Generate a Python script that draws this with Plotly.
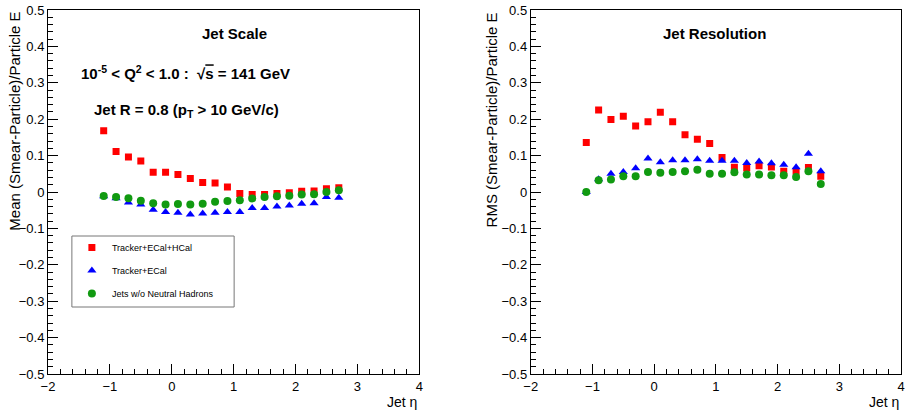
import plotly.graph_objects as go

# ---- data ----
eta = [-1.1, -0.9, -0.7, -0.5, -0.3, -0.1, 0.1, 0.3, 0.5, 0.7,
       0.9, 1.1, 1.3, 1.5, 1.7, 1.9, 2.1, 2.3, 2.5, 2.7]

mean_full = [0.168, 0.111, 0.096, 0.085, 0.054, 0.054, 0.048, 0.037, 0.026, 0.025,
             0.014, -0.004, -0.007, -0.007, -0.004, -0.002, 0.002, 0.003, 0.009, 0.012]
mean_trk_ecal = [-0.012, -0.017, -0.029, -0.034, -0.049, -0.055, -0.057, -0.062, -0.059, -0.057,
                 -0.055, -0.055, -0.044, -0.044, -0.040, -0.037, -0.032, -0.031, -0.014, -0.016]
mean_no_nh = [-0.011, -0.014, -0.017, -0.024, -0.031, -0.034, -0.033, -0.034, -0.032, -0.027,
              -0.025, -0.023, -0.018, -0.014, -0.012, -0.010, -0.007, -0.006, 0.000, 0.005]

rms_full = [0.136, 0.225, 0.199, 0.208, 0.181, 0.193, 0.219, 0.193, 0.157, 0.145,
            0.133, 0.095, 0.068, 0.066, 0.072, 0.069, 0.057, 0.057, 0.067, 0.043]
rms_trk_ecal = [0.000, 0.035, 0.050, 0.055, 0.065, 0.092, 0.082, 0.087, 0.087, 0.090,
                0.086, 0.086, 0.086, 0.080, 0.084, 0.079, 0.075, 0.068, 0.105, 0.057]
rms_no_nh = [0.000, 0.032, 0.034, 0.043, 0.043, 0.055, 0.053, 0.055, 0.057, 0.061,
             0.050, 0.050, 0.054, 0.048, 0.048, 0.046, 0.046, 0.041, 0.057, 0.022]

series_names = ["Tracker+ECal+HCal", "Tracker+ECal", "Jets w/o Neutral Hadrons"]
colors = ["#ff0000", "#0000ff", "#119a11"]
symbols = ["square", "triangle-up", "circle"]
sizes = [7, 8, 8]

FONT = "Liberation Sans, Arial, Helvetica, sans-serif"

fig = go.Figure()

left = [mean_full, mean_trk_ecal, mean_no_nh]
right = [rms_full, rms_trk_ecal, rms_no_nh]
for i in range(3):
    fig.add_trace(go.Scatter(
        x=eta, y=left[i], mode="markers", name=series_names[i],
        legendgroup=f"g{i}",
        marker=dict(symbol=symbols[i], color=colors[i], size=sizes[i], line=dict(width=0)),
        xaxis="x", yaxis="y", showlegend=True))
for i in range(3):
    fig.add_trace(go.Scatter(
        x=eta, y=right[i], mode="markers", name=series_names[i],
        legendgroup=f"g{i}",
        marker=dict(symbol=symbols[i], color=colors[i], size=sizes[i], line=dict(width=0)),
        xaxis="x2", yaxis="y2", showlegend=False))

W, H = 908, 410
ml, mr, mt, mb = 48, 3, 10, 36
pw = W - ml - mr
ph = H - mt - mb

def px(x):
    return (x - ml) / pw

def py(y):
    return 1 - (y - mt) / ph

xcommon = dict(range=[-2, 4], tick0=-2, dtick=1, ticks="inside", ticklen=10,
               tickcolor="black", showline=True, linecolor="black", linewidth=1,
               mirror=True, showgrid=False, zeroline=False,
               minor=dict(dtick=0.2, ticks="inside", ticklen=5, tickcolor="black", showgrid=False),
               tickfont=dict(family=FONT, size=13, color="black"))
ycommon = dict(range=[-0.5, 0.5], tick0=0, dtick=0.1, ticks="inside", ticklen=10,
               tickcolor="black", showline=True, linecolor="black", linewidth=1,
               mirror=True, showgrid=False, zeroline=False,
               minor=dict(dtick=0.02, ticks="inside", ticklen=5, tickcolor="black", showgrid=False),
               tickfont=dict(family=FONT, size=13, color="black"))

fig.update_layout(
    width=W, height=H,
    margin=dict(l=ml, r=mr, t=mt, b=mb),
    paper_bgcolor="white", plot_bgcolor="white",
    font=dict(family=FONT, color="black"),
    xaxis=dict(domain=[0, px(421)], anchor="y", **xcommon),
    yaxis=dict(domain=[0, 1], anchor="x", **ycommon),
    xaxis2=dict(domain=[px(533), 1], anchor="y2", **xcommon),
    yaxis2=dict(domain=[0, 1], anchor="x2", **ycommon),
    showlegend=True,
    legend=dict(x=px(72), y=py(233), xanchor="left", yanchor="top",
                bgcolor="rgba(0,0,0,0)", borderwidth=0,
                font=dict(family=FONT, size=9, color="black"),
                tracegroupgap=4, itemsizing="trace"),
)

# legend frame
fig.add_shape(type="rect", xref="paper", yref="paper",
              x0=px(72), x1=px(235), y0=py(307), y1=py(236),
              line=dict(color="#777777", width=1), fillcolor="rgba(0,0,0,0)")

ann = []
bold15 = dict(family=FONT, size=15, color="black")
ann.append(dict(text="<b>Jet Scale</b>", xref="x domain", yref="y domain",
                x=(235 - 48) / 373, y=py(33), xanchor="center", yanchor="middle",
                showarrow=False, font=bold15))
ann.append(dict(text="<b>10<sup>-5</sup> < Q<sup>2</sup> < 1.0 :  √<span style='text-decoration:overline'>s</span> = 141 GeV</b>",
                xref="x domain", yref="y domain",
                x=(186 - 48) / 373, y=py(72), xanchor="center", yanchor="middle",
                showarrow=False, font=bold15))
ann.append(dict(text="<b>Jet R = 0.8 (p<sub>T</sub> > 10 GeV/c)</b>",
                xref="x domain", yref="y domain",
                x=(187 - 48) / 373, y=py(110), xanchor="center", yanchor="middle",
                showarrow=False, font=bold15))
ann.append(dict(text="<b>Jet Resolution</b>", xref="x2 domain", yref="y2 domain",
                x=(718 - 533) / 372, y=py(33), xanchor="center", yanchor="middle",
                showarrow=False, font=bold15))

lab14 = dict(family=FONT, size=14, color="black")
lab15 = dict(family=FONT, size=15, color="black")
ann.append(dict(text="Jet η", xref="x domain", yref="paper", x=1, y=py(402),
                xanchor="right", yanchor="middle", showarrow=False, font=lab14))
ann.append(dict(text="Jet η", xref="x2 domain", yref="paper", x=1, y=py(402),
                xanchor="right", yanchor="middle", showarrow=False, font=lab14))
ann.append(dict(text="Mean (Smear-Particle)/Particle E", xref="paper", yref="paper",
                x=px(14), y=1, xanchor="center", yanchor="top", textangle=-90,
                showarrow=False, font=lab15))
ann.append(dict(text="RMS (Smear-Particle)/Particle E", xref="paper", yref="paper",
                x=px(494), y=1, xanchor="center", yanchor="top", textangle=-90,
                showarrow=False, font=lab15))

fig.update_layout(annotations=ann)

fig.write_html("out.html", config={"displayModeBar": False},
               post_script="document.body.style.margin='0px';document.body.style.overflow='hidden';")
